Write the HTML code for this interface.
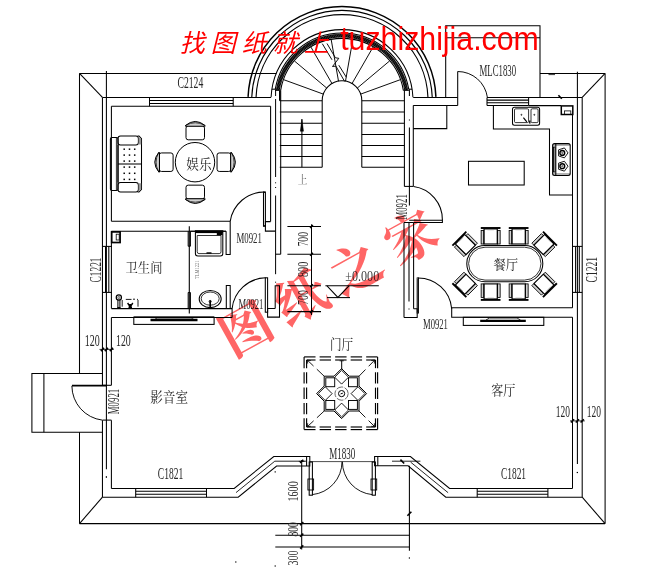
<!DOCTYPE html>
<html><head><meta charset="utf-8"><title>floor plan</title>
<style>
html,body{margin:0;padding:0;background:#fff;}
body{width:650px;height:567px;overflow:hidden;font-family:"Liberation Sans",sans-serif;}
svg{display:block;}
</style></head><body>
<svg width="650" height="567" viewBox="0 0 650 567">
<rect width="650" height="567" fill="#fff"/>
<g fill="none" stroke="#000" stroke-width="1.05">
<path d="M79.5 73.4L276.3 73.4"/>
<path d="M540 73.4L605.1 73.4"/>
<path d="M79.5 73.4L79.5 373.5"/>
<path d="M79.5 432.2L79.5 523.6"/>
<path d="M79.5 523.6L605.1 523.6"/>
<path d="M605.1 73.4L605.1 523.6"/>
<path d="M79.5 73.4L102.45 97.45"/>
<path d="M605.1 73.4L582.2 97.3"/>
<path d="M79.5 523.6L102.45 497.2"/>
<path d="M605.1 523.6L582.2 497.2"/>
<path d="M248.07 96.9A94 94 0 0 1 435.93 96.9" stroke-width="1.5"/>
<path d="M251.78 96.9A90.3 90.3 0 0 1 432.22 96.9" stroke-width="1.15"/>
<path d="M256.08 96.9A86 86 0 0 1 427.92 96.9" stroke-width="1.15"/>
<path d="M271.08 97.2A71.0 71.0 0 0 1 412.92 97.3"/>
<path d="M275.27 89.2A67.7 67.7 0 0 1 408.73 89.2"/>
<defs><pattern id="hat" width="1.9" height="1.9" patternUnits="userSpaceOnUse" patternTransform="rotate(35)"><rect width="1.9" height="1.9" fill="#fff"/><rect width="0.42" height="1.9" fill="#222"/></pattern></defs>
<path d="M276.1 90.3A66.7 66.7 0 0 1 407.9 90.3L404.25 90.3A63.1 63.1 0 0 0 279.75 90.3Z" fill="url(#hat)" stroke="none"/>
<path d="M276.1 90.3A66.7 66.7 0 0 1 407.9 90.3" stroke-width="0.6"/>
<path d="M280.64 90.4A62.2 62.2 0 0 1 403.36 90.4"/>
<path d="M271.92 89.2L275.27 89.2"/>
<path d="M275.09 90.3L280.66 90.3"/>
<path d="M412.08 89.2L408.73 89.2"/>
<path d="M408.91 90.3L403.34 90.3"/>
<path d="M279.8 100.8L322.2 100.8"/>
<path d="M361.8 100.8L404.4 100.8"/>
<path d="M279.8 111.9L322.2 111.9"/>
<path d="M361.8 111.9L404.4 111.9"/>
<path d="M279.8 123.3L322.2 123.3"/>
<path d="M361.8 123.3L404.4 123.3"/>
<path d="M279.8 134.4L322.2 134.4"/>
<path d="M361.8 134.4L404.4 134.4"/>
<path d="M279.8 145.4L322.2 145.4"/>
<path d="M361.8 145.4L404.4 145.4"/>
<path d="M279.8 156.4L322.2 156.4"/>
<path d="M361.8 156.4L404.4 156.4"/>
<path d="M279.8 167.3L322.2 167.3"/>
<path d="M361.8 167.3L404.4 167.3"/>
<path d="M322.2 167.3L322.2 100.6A19.8 19.8 0 0 1 361.8 100.6L361.8 167.3"/>
<path d="M360.61 94.13L400.45 79.63" stroke-width="0.95"/>
<path d="M357.17 88.17L389.65 60.92" stroke-width="0.95"/>
<path d="M351.9 83.75L373.1 47.03" stroke-width="0.95"/>
<path d="M345.44 81.4L352.8 39.64" stroke-width="0.95"/>
<path d="M338.56 81.4L331.2 39.64" stroke-width="0.95"/>
<path d="M332.1 83.75L310.9 47.03" stroke-width="0.95"/>
<path d="M326.83 88.17L294.35 60.92" stroke-width="0.95"/>
<path d="M323.39 94.13L283.55 79.63" stroke-width="0.95"/>
<path d="M322.3 43.7L332 59.8" stroke-width="0.95"/>
<path d="M327 43.5L335.4 57.8L338.8 58.3L332.5 66.5L335.9 66.1L344.6 81.4" stroke-width="0.95"/>
<path d="M332 59.8L332.5 66.5" stroke-width="0.0001"/>
<path d="M338.8 65.2L346.3 77.2" stroke-width="0.95"/>
<path d="M301.9 167.3L301.9 119"/>
<path d="M301.9 119.6L300.3 131.2L303.5 131.2Z" fill="#000" stroke-width="0.5"/>
<path d="M102.45 97.45L102.45 385.2"/>
<path d="M102.45 420.2L102.45 497.2"/>
<path d="M106.4 71L106.4 469.3"/>
<path d="M106.4 476.5L106.4 477.5"/>
<path d="M111.4 106.2L111.4 221.2"/>
<path d="M111.4 231.2L111.4 308.6"/>
<path d="M111.4 317.4L111.4 385.2"/>
<path d="M111.4 420.2L111.4 488.4"/>
<path d="M102.45 385.3L111.4 385.3"/>
<path d="M102.45 420.1L111.4 420.1"/>
<path d="M102.45 97.45L271 97.45"/>
<path d="M111.4 106.2L270.6 106.2"/>
<path d="M149.5 100.5L233.2 100.5"/>
<path d="M149.5 103.4L233.2 103.4"/>
<path d="M149.5 97.45L149.5 106.2"/>
<path d="M233.2 97.45L233.2 106.2"/>
<path d="M582.2 97.3L582.2 497.2"/>
<path d="M577.4 71.8L577.4 464"/>
<path d="M577.4 472L577.4 473"/>
<path d="M572.5 114.6L572.5 307.8"/>
<path d="M572.5 317.2L572.5 488.4"/>
<path d="M413.2 97.4L457.7 97.4"/>
<path d="M487 97.4L582.2 97.4"/>
<path d="M413.2 105.5L457.7 105.5"/>
<path d="M487 100.1L528.6 100.1"/>
<path d="M487 102.8L528.6 102.8"/>
<path d="M487 105.5L528.6 105.5"/>
<path d="M487 97.4L487 105.5"/>
<path d="M528.6 97.4L528.6 105.5"/>
<path d="M528.6 105.6L561 105.6"/>
<path d="M111.4 488.4L234.2 488.4L273.8 456.5L309.8 456.5L309.8 466L276.6 466L238.2 497.2L102.45 497.2"/>
<path d="M236 492.6L274.8 461.2L306.3 461.2" stroke-width="0.85"/>
<path d="M306.6 456.8L306.6 466"/>
<path d="M572.5 488.4L449.6 488.4L410.4 456.5L374.6 456.5L374.6 465.8L408.1 465.8L445.8 497.2L582.2 497.2"/>
<path d="M448.1 492.7L410.6 462.1" stroke-width="0.85"/>
<path d="M392 461.2L420.4 461.2" stroke-width="0.85"/>
<path d="M400.4 459.6L404.2 463.5" stroke-width="1.6"/>
<path d="M377.8 456.7L377.8 465.8"/>
<path d="M135.7 488.4L135.7 497.2"/>
<path d="M206.5 488.4L206.5 497.2"/>
<path d="M135.7 491.3L206.5 491.3"/>
<path d="M135.7 494.3L206.5 494.3"/>
<path d="M477.2 488.4L477.2 497.2"/>
<path d="M547.9 488.4L547.9 497.2"/>
<path d="M477.2 491.3L547.9 491.3"/>
<path d="M477.2 494.3L547.9 494.3"/>
<path d="M102.45 246.4L111.8 246.4"/>
<path d="M102.45 292.4L111.8 292.4"/>
<path d="M105.5 246.4L105.5 292.4"/>
<path d="M108.8 246.4L108.8 292.4"/>
<path d="M572 246.4L582.2 246.4"/>
<path d="M572 292.4L582.2 292.4"/>
<path d="M575.6 246.4L575.6 292.4"/>
<path d="M579.3 246.4L579.3 292.4"/>
<path d="M445.7 97.4L445.7 25.8L540 25.8L540 97.4"/>
<path d="M445.7 37.8L540 37.8"/>
<path d="M548.5 74.6L555 74.6" stroke-width="0.8"/>
<path d="M558.4 95.2L561.8 98.8" stroke-width="1.6"/>
<path d="M457.7 71.5L457.7 105.5"/>
<path d="M457.7 71.5A30 30 0 0 1 487.4 97.4" stroke-width="0.95"/>
<path d="M102.45 373.5L31.9 373.5L31.9 432.2L102.45 432.2"/>
<path d="M43.9 373.5L43.9 432.2"/>
<path d="M71.9 385.6L106.4 385.6" stroke-width="1.8"/>
<path d="M71.9 386A34.6 34.6 0 0 0 102.2 420.1" stroke-width="0.95"/>
<path d="M270.6 106.2L270.6 221.6"/>
<path d="M280.7 90.4L280.7 254.2"/>
<path d="M279.8 90.4L279.8 100.8" stroke-width="1.6"/>
<path d="M275.6 89.2L275.6 96M275.6 99L275.6 177M275.6 182.3L275.6 183.3M275.6 187L275.6 188M275.6 195.5L275.6 274.2M275.6 281.7L275.6 282.7" stroke-width="1"/>
<path d="M111.4 221.2L230.2 221.2"/>
<path d="M111.4 231.2L226.1 231.2"/>
<rect x="263.5" y="192" width="1.9" height="34.3"/>
<path d="M230.2 221.3A34.5 34.5 0 0 1 264.6 192"/>
<path d="M270.6 221.6L265.4 221.6L265.4 231.1L275.6 231.1"/>
<path d="M275.6 254.2L280.7 254.2"/>
<path d="M111.4 308.6L232.1 308.6"/>
<path d="M111.4 317.4L232.1 317.4"/>
<path d="M232.1 308.6L232.1 317.4"/>
<path d="M188.2 231.2L188.2 246.2"/>
<path d="M190.4 231.2L190.4 246.2"/>
<path d="M188.2 246.2L190.4 246.2"/>
<path d="M188.2 292.5L188.2 308.6"/>
<path d="M190.4 292.5L190.4 308.6"/>
<path d="M188.2 292.5L190.4 292.5"/>
<path d="M189.3 226.2L189.3 313.5" stroke-width="1.1"/>
<path d="M190.4 231.2L226.1 231.2"/>
<path d="M226.1 231.2L226.1 254.4L230.2 254.4L230.2 221.2"/>
<path d="M226.3 308.6L226.3 285.4L230.2 285.4L230.2 308.6"/>
<rect x="265.3" y="277.8" width="2.3" height="34.4"/>
<path d="M265.6 277.8A34.5 34.5 0 0 0 232.1 308.6"/>
<path d="M275.2 308.5L275.2 285.7L279.5 285.7L279.5 317.1L267.6 317.1L267.6 308.5L275.2 308.5"/>
<rect x="111.7" y="231.9" width="8.4" height="10.6" stroke-width="1.7"/>
<rect x="116.2" y="234.2" width="3" height="5.8" stroke-width="0.8"/>
<circle cx="118.85" cy="297.5" r="2.6" stroke-width="1.2"/>
<circle cx="118.85" cy="297.5" r="1" stroke-width="0.6"/>
<path d="M117.9 299.8L117.9 308"/>
<path d="M119.9 299.8L119.9 308"/>
<path d="M117.4 308L120.4 308" stroke-width="2"/>
<path d="M122.2 300L122.2 306.7M138 300L138 306.7M125.8 299.4L131.5 299.4M133 299.2L135 299.2M137 299.4L138 299.4" stroke-width="0.9"/>
<path d="M127.6 303L130.2 306.8M132.8 303L130.2 306.8M128.5 307.2L132 307.2M130.2 304L130.2 307" stroke-width="1.4"/>
<path d="M195.4 230.8L222.8 230.8L222.8 253.5Q222.8 256 220.3 256L197.9 256Q195.4 256 195.4 253.5Z"/>
<path d="M195.4 232L222.8 232" stroke-width="2.2"/>
<path d="M197.2 235.5L221 235.5L221 251.8Q221 253.6 219.2 253.6L199 253.6Q197.2 253.6 197.2 251.8Z" stroke-width="0.8"/>
<rect x="216.8" y="231" width="5.8" height="4.2" fill="#000" stroke="none"/>
<path d="M206.5 253L211.5 253" stroke-width="1.4"/>
<ellipse cx="210.2" cy="299" rx="11" ry="8.6"/>
<ellipse cx="210.2" cy="298.6" rx="9" ry="6.6" stroke-width="0.8"/>
<path d="M210.2 300.5L210.2 307.5" stroke-width="1.6"/>
<circle cx="210.2" cy="301.5" r="1.1" stroke-width="0.8"/>
<rect x="133.8" y="317.2" width="80.3" height="7.2"/>
<path d="M133.8 317.2L214.1 317.2" stroke-width="1.6"/>
<path d="M150.5 320L197.5 320" stroke-width="2.6"/>
<path d="M155 319L157.5 318L191 318L193.5 319" stroke-width="0.7"/>
<rect x="110.4" y="137.4" width="7.6" height="53.2" rx="1.5"/>
<path d="M116.4 138L116.4 190" stroke-width="0.8"/>
<rect x="118" y="135.9" width="20.4" height="9.2" rx="2.5"/>
<rect x="118" y="182.5" width="20.4" height="9.5" rx="2.5"/>
<path d="M137.6 135.9L139 135.9L141.5 138.6L141.5 189.4L139 192L137.6 192"/>
<path d="M138.6 136.4L141.2 139L141.2 144.5L138.6 144.5ZM138.6 191.6L141.2 189L141.2 183.2L138.6 183.2Z" fill="#999" stroke="none"/>
<path d="M118 145.1L118 182.5"/>
<path d="M118 164L141.5 164"/>
<rect x="123.45" y="148.45" width="1.5" height="1.5" fill="#000" stroke="none"/>
<rect x="128.75" y="148.45" width="1.5" height="1.5" fill="#000" stroke="none"/>
<rect x="133.95" y="148.45" width="1.5" height="1.5" fill="#000" stroke="none"/>
<rect x="123.45" y="154.35" width="1.5" height="1.5" fill="#000" stroke="none"/>
<rect x="128.75" y="154.35" width="1.5" height="1.5" fill="#000" stroke="none"/>
<rect x="133.95" y="154.35" width="1.5" height="1.5" fill="#000" stroke="none"/>
<rect x="123.45" y="160.35" width="1.5" height="1.5" fill="#000" stroke="none"/>
<rect x="128.75" y="160.35" width="1.5" height="1.5" fill="#000" stroke="none"/>
<rect x="133.95" y="160.35" width="1.5" height="1.5" fill="#000" stroke="none"/>
<rect x="123.45" y="166.35" width="1.5" height="1.5" fill="#000" stroke="none"/>
<rect x="128.75" y="166.35" width="1.5" height="1.5" fill="#000" stroke="none"/>
<rect x="133.95" y="166.35" width="1.5" height="1.5" fill="#000" stroke="none"/>
<rect x="123.45" y="172.55" width="1.5" height="1.5" fill="#000" stroke="none"/>
<rect x="128.75" y="172.55" width="1.5" height="1.5" fill="#000" stroke="none"/>
<rect x="133.95" y="172.55" width="1.5" height="1.5" fill="#000" stroke="none"/>
<rect x="123.45" y="178.65" width="1.5" height="1.5" fill="#000" stroke="none"/>
<rect x="128.75" y="178.65" width="1.5" height="1.5" fill="#000" stroke="none"/>
<rect x="133.95" y="178.65" width="1.5" height="1.5" fill="#000" stroke="none"/>
<circle cx="195" cy="162.2" r="19.7" stroke-width="1.0"/>
<g transform="rotate(0 195.25 132.85)">
<rect x="186" y="125.9" width="18.5" height="13.9" rx="2.2" stroke-width="1.0"/>
<path d="M185.25 125.85L205.25 125.85" stroke-width="1.7"/>
<path d="M185.25 125.65Q195.25 117.25 205.25 125.65" stroke-width="1.0" fill="#cfcfcf"/>
<path d="M185.85 125.25Q195.25 120.25 204.65 125.25" stroke-width="0.7"/>
</g>
<g transform="rotate(180 195.25 192.1)">
<rect x="186" y="185.15" width="18.5" height="13.9" rx="2.2" stroke-width="1.0"/>
<path d="M185.25 185.1L205.25 185.1" stroke-width="1.7"/>
<path d="M185.25 184.9Q195.25 176.5 205.25 184.9" stroke-width="1.0" fill="#cfcfcf"/>
<path d="M185.85 184.5Q195.25 179.5 204.65 184.5" stroke-width="0.7"/>
</g>
<g transform="rotate(-90 166.15 162.2)">
<rect x="156.9" y="155.25" width="18.5" height="13.9" rx="2.2" stroke-width="1.0"/>
<path d="M156.15 155.2L176.15 155.2" stroke-width="1.7"/>
<path d="M156.15 155Q166.15 146.6 176.15 155" stroke-width="1.0" fill="#cfcfcf"/>
<path d="M156.75 154.6Q166.15 149.6 175.55 154.6" stroke-width="0.7"/>
</g>
<g transform="rotate(90 224 162.2)">
<rect x="214.75" y="155.25" width="18.5" height="13.9" rx="2.2" stroke-width="1.0"/>
<path d="M214 155.2L234 155.2" stroke-width="1.7"/>
<path d="M214 155Q224 146.6 234 155" stroke-width="1.0" fill="#cfcfcf"/>
<path d="M214.6 154.6Q224 149.6 233.4 154.6" stroke-width="0.7"/>
</g>
<path d="M404.4 90.2L404.4 186.4"/>
<path d="M413.3 105.4L413.3 186.4"/>
<path d="M404.4 186.4L413.3 186.4"/>
<path d="M409.4 89.2L409.4 96M409.4 119.4L409.4 120.4M409.4 127.6L409.4 205.6"/>
<path d="M446.8 105.4L446.8 128.6L413.3 128.6"/>
<path d="M413.6 186.6A33.4 33.4 0 0 1 442.4 220.2"/>
<path d="M409.2 220.2L442.4 220.2L442.4 222.5L413.6 222.5"/>
<path d="M404 222.5L404 317.5"/>
<path d="M404 222.5L413.6 222.5"/>
<path d="M413.6 222.5L413.6 308.7"/>
<path d="M409 222.5L409 301.6M409 308.5L409 309.5"/>
<path d="M404 317.5L417.2 317.5L417.2 308.7L413.6 308.7"/>
<rect x="417.2" y="278" width="1.2" height="35"/>
<path d="M417.8 278A33.6 33.6 0 0 1 451.7 308.7"/>
<path d="M572.5 307.8L451.7 307.8L451.7 317.3L572.5 317.3"/>
<rect x="463.3" y="317.3" width="80.5" height="8.1"/>
<path d="M480.2 320.9L525.8 320.9" stroke-width="2.4"/>
<path d="M486 320L489.5 318L517 318L520.5 320" stroke-width="0.8"/>
<path d="M493.4 105.5L493.4 128.9L549.5 128.9L549.5 194.9L572.5 194.9"/>
<rect x="512.5" y="107.2" width="27.1" height="18" rx="2"/>
<rect x="514.5" y="108.8" width="14.1" height="13.8" rx="1.2" stroke-width="0.8"/>
<rect x="531" y="108.8" width="7.1" height="13.8" rx="1.2" stroke-width="0.8"/>
<path d="M523.4 117.6L526.8 121.8" stroke-width="1.2"/>
<path d="M529.8 120.4L529.8 123.4" stroke-width="1.4"/>
<circle cx="521.4" cy="114.8" r="0.5" stroke-width="0.8"/>
<circle cx="534.3" cy="114.8" r="0.5" stroke-width="0.8"/>
<rect x="561.3" y="105.9" width="11.5" height="8.6" stroke-width="1.5"/>
<rect x="564.4" y="110.9" width="6.4" height="3.5" stroke-width="0.8"/>
<rect x="552.6" y="143.6" width="17.6" height="31.8" rx="2"/>
<path d="M555.8 144L555.8 175"/>
<rect x="553.5" y="147" width="1.5" height="25" stroke-width="0.9"/>
<path d="M552.6 145L570.2 145" stroke-width="0.6"/>
<path d="M552.6 174L570.2 174" stroke-width="0.6"/>
<path d="M568 152.9L564.41 147.95L558.59 149.84L558.59 155.96L564.41 157.85Z" stroke-width="0.9"/>
<circle cx="562.3" cy="152.9" r="2.4" stroke-width="1.4"/>
<circle cx="562.3" cy="152.9" r="0.7" stroke-width="0.6"/>
<path d="M568 166.2L564.41 161.25L558.59 163.14L558.59 169.26L564.41 171.15Z" stroke-width="0.9"/>
<circle cx="562.3" cy="166.2" r="2.4" stroke-width="1.4"/>
<circle cx="562.3" cy="166.2" r="0.7" stroke-width="0.6"/>
<rect x="468.5" y="161.3" width="55.7" height="23.7"/>
<rect x="466.8" y="245.5" width="76" height="36.3" rx="18.1"/>
<rect x="468.6" y="247.2" width="72.4" height="32.9" rx="16.4" stroke-width="0.8"/>
<g transform="rotate(0 490.65 236.5)">
<path d="M480.8 228L500.5 228" stroke-width="1.9"/>
<rect x="481.15" y="230.5" width="2.6" height="13.5" stroke-width="0.85" fill="#d0d0d0"/>
<rect x="497.55" y="230.5" width="2.6" height="13.5" stroke-width="0.85" fill="#d0d0d0"/>
<rect x="484.05" y="228.9" width="13.2" height="15.1" stroke-width="1.15"/>
<path d="M487.45 229.8L493.85 229.8" stroke-width="0.6" stroke="#888"/>
</g>
<g transform="rotate(0 518.65 236.5)">
<path d="M508.8 228L528.5 228" stroke-width="1.9"/>
<rect x="509.15" y="230.5" width="2.6" height="13.5" stroke-width="0.85" fill="#d0d0d0"/>
<rect x="525.55" y="230.5" width="2.6" height="13.5" stroke-width="0.85" fill="#d0d0d0"/>
<rect x="512.05" y="228.9" width="13.2" height="15.1" stroke-width="1.15"/>
<path d="M515.45 229.8L521.85 229.8" stroke-width="0.6" stroke="#888"/>
</g>
<g transform="rotate(180 490.65 291.4)">
<path d="M480.8 282.9L500.5 282.9" stroke-width="1.9"/>
<rect x="481.15" y="285.4" width="2.6" height="13.5" stroke-width="0.85" fill="#d0d0d0"/>
<rect x="497.55" y="285.4" width="2.6" height="13.5" stroke-width="0.85" fill="#d0d0d0"/>
<rect x="484.05" y="283.8" width="13.2" height="15.1" stroke-width="1.15"/>
<path d="M487.45 284.7L493.85 284.7" stroke-width="0.6" stroke="#888"/>
</g>
<g transform="rotate(180 518.65 291.4)">
<path d="M508.8 282.9L528.5 282.9" stroke-width="1.9"/>
<rect x="509.15" y="285.4" width="2.6" height="13.5" stroke-width="0.85" fill="#d0d0d0"/>
<rect x="525.55" y="285.4" width="2.6" height="13.5" stroke-width="0.85" fill="#d0d0d0"/>
<rect x="512.05" y="283.8" width="13.2" height="15.1" stroke-width="1.15"/>
<path d="M515.45 284.7L521.85 284.7" stroke-width="0.6" stroke="#888"/>
</g>
<g transform="rotate(-45 465.4 244.6)">
<path d="M455.55 236.1L475.25 236.1" stroke-width="1.9"/>
<rect x="455.9" y="238.6" width="2.6" height="13.5" stroke-width="0.85" fill="#d0d0d0"/>
<rect x="472.3" y="238.6" width="2.6" height="13.5" stroke-width="0.85" fill="#d0d0d0"/>
<rect x="458.8" y="237" width="13.2" height="15.1" stroke-width="1.15"/>
<path d="M462.2 237.9L468.6 237.9" stroke-width="0.6" stroke="#888"/>
</g>
<g transform="rotate(45 543.9 244.6)">
<path d="M534.05 236.1L553.75 236.1" stroke-width="1.9"/>
<rect x="534.4" y="238.6" width="2.6" height="13.5" stroke-width="0.85" fill="#d0d0d0"/>
<rect x="550.8" y="238.6" width="2.6" height="13.5" stroke-width="0.85" fill="#d0d0d0"/>
<rect x="537.3" y="237" width="13.2" height="15.1" stroke-width="1.15"/>
<path d="M540.7 237.9L547.1 237.9" stroke-width="0.6" stroke="#888"/>
</g>
<g transform="rotate(-135 465.4 284.2)">
<path d="M455.55 275.7L475.25 275.7" stroke-width="1.9"/>
<rect x="455.9" y="278.2" width="2.6" height="13.5" stroke-width="0.85" fill="#d0d0d0"/>
<rect x="472.3" y="278.2" width="2.6" height="13.5" stroke-width="0.85" fill="#d0d0d0"/>
<rect x="458.8" y="276.6" width="13.2" height="15.1" stroke-width="1.15"/>
<path d="M462.2 277.5L468.6 277.5" stroke-width="0.6" stroke="#888"/>
</g>
<g transform="rotate(135 543.9 284.2)">
<path d="M534.05 275.7L553.75 275.7" stroke-width="1.9"/>
<rect x="534.4" y="278.2" width="2.6" height="13.5" stroke-width="0.85" fill="#d0d0d0"/>
<rect x="550.8" y="278.2" width="2.6" height="13.5" stroke-width="0.85" fill="#d0d0d0"/>
<rect x="537.3" y="276.6" width="13.2" height="15.1" stroke-width="1.15"/>
<path d="M540.7 277.5L547.1 277.5" stroke-width="0.6" stroke="#888"/>
</g>
<path d="M304.1 356.9L315.52 356.9" stroke-width="1.15"/>
<path d="M304.1 429.6L315.52 429.6" stroke-width="1.15"/>
<path d="M319.62 356.9L331.04 356.9" stroke-width="1.15"/>
<path d="M319.62 429.6L331.04 429.6" stroke-width="1.15"/>
<path d="M335.14 356.9L346.56 356.9" stroke-width="1.15"/>
<path d="M335.14 429.6L346.56 429.6" stroke-width="1.15"/>
<path d="M350.66 356.9L362.08 356.9" stroke-width="1.15"/>
<path d="M350.66 429.6L362.08 429.6" stroke-width="1.15"/>
<path d="M366.18 356.9L377.6 356.9" stroke-width="1.15"/>
<path d="M366.18 429.6L377.6 429.6" stroke-width="1.15"/>
<path d="M304.1 356.9L304.1 368.16" stroke-width="1.15"/>
<path d="M377.6 356.9L377.6 368.16" stroke-width="1.15"/>
<path d="M304.1 372.26L304.1 383.52" stroke-width="1.15"/>
<path d="M377.6 372.26L377.6 383.52" stroke-width="1.15"/>
<path d="M304.1 387.62L304.1 398.88" stroke-width="1.15"/>
<path d="M377.6 387.62L377.6 398.88" stroke-width="1.15"/>
<path d="M304.1 402.98L304.1 414.24" stroke-width="1.15"/>
<path d="M377.6 402.98L377.6 414.24" stroke-width="1.15"/>
<path d="M304.1 418.34L304.1 429.6" stroke-width="1.15"/>
<path d="M377.6 418.34L377.6 429.6" stroke-width="1.15"/>
<path d="M306.6 360L315.52 360" stroke-width="1.15"/>
<path d="M306.6 427L315.52 427" stroke-width="1.15"/>
<path d="M319.62 360L331.04 360" stroke-width="1.15"/>
<path d="M319.62 427L331.04 427" stroke-width="1.15"/>
<path d="M335.14 360L346.56 360" stroke-width="1.15"/>
<path d="M335.14 427L346.56 427" stroke-width="1.15"/>
<path d="M350.66 360L362.08 360" stroke-width="1.15"/>
<path d="M350.66 427L362.08 427" stroke-width="1.15"/>
<path d="M366.18 360L375.5 360" stroke-width="1.15"/>
<path d="M366.18 427L375.5 427" stroke-width="1.15"/>
<path d="M306.6 360L306.6 368.16" stroke-width="1.15"/>
<path d="M375.5 360L375.5 368.16" stroke-width="1.15"/>
<path d="M306.6 372.26L306.6 383.52" stroke-width="1.15"/>
<path d="M375.5 372.26L375.5 383.52" stroke-width="1.15"/>
<path d="M306.6 387.62L306.6 398.88" stroke-width="1.15"/>
<path d="M375.5 387.62L375.5 398.88" stroke-width="1.15"/>
<path d="M306.6 402.98L306.6 414.24" stroke-width="1.15"/>
<path d="M375.5 402.98L375.5 414.24" stroke-width="1.15"/>
<path d="M306.6 418.34L306.6 427" stroke-width="1.15"/>
<path d="M375.5 418.34L375.5 427" stroke-width="1.15"/>
<path d="M374.6 426.6L368.59 420.59" stroke-width="0.9"/>
<path d="M365.41 417.41L359 411" stroke-width="0.9"/>
<path d="M371.2 426.3L374.6 426.6L374.3 423.2" stroke-width="0.8"/>
<path d="M307.4 426.6L313.63 420.82" stroke-width="0.9"/>
<path d="M316.93 417.75L324.2 411" stroke-width="0.9"/>
<path d="M310.8 426.3L307.4 426.6L307.7 423.2" stroke-width="0.8"/>
<path d="M374.6 360.2L368.67 366.29" stroke-width="0.9"/>
<path d="M365.52 369.51L359 376.2" stroke-width="0.9"/>
<path d="M371.2 360.5L374.6 360.2L374.3 363.6" stroke-width="0.8"/>
<path d="M307.4 360.2L313.56 366.06" stroke-width="0.9"/>
<path d="M316.81 369.17L324.2 376.2" stroke-width="0.9"/>
<path d="M310.8 360.5L307.4 360.2L307.7 363.6" stroke-width="0.8"/>
<path d="M341.7 360.6L341.7 369.6" stroke-width="1.0"/>
<path d="M339.6 360.8L343.8 360.8" stroke-width="0.8"/>
<path d="M341.6 368.6L349.2 376.2L359 376.2L359 386L366.6 393.6L359 401.2L359 411L349.2 411L341.6 418.6L334 411L324.2 411L324.2 401.2L316.6 393.6L324.2 386L324.2 376.2L334 376.2Z" stroke-width="1.0"/>
<rect x="348.5" y="400.5" width="8.9" height="8.9" stroke-width="0.95"/>
<rect x="325.8" y="400.5" width="8.9" height="8.9" stroke-width="0.95"/>
<rect x="348.5" y="377.8" width="8.9" height="8.9" stroke-width="0.95"/>
<rect x="325.8" y="377.8" width="8.9" height="8.9" stroke-width="0.95"/>
<path d="M341.6 370.3L348.5 377.2L341.6 384.1L334.7 377.2Z" stroke-width="0.9"/>
<path d="M358 386.7L364.9 393.6L358 400.5L351.1 393.6Z" stroke-width="0.9"/>
<path d="M341.6 403.1L348.5 410L341.6 416.9L334.7 410Z" stroke-width="0.9"/>
<path d="M325.2 386.7L332.1 393.6L325.2 400.5L318.3 393.6Z" stroke-width="0.9"/>
<circle cx="341.6" cy="393.6" r="6.6" stroke-width="0.8" stroke="#444" stroke-dasharray="7 1.5"/>
<circle cx="341.6" cy="393.6" r="3.1" stroke-width="1.0"/>
<path d="M340.6 393.9L342.8 393.2" stroke-width="1.0"/>
<path d="M310 461.6L374.6 461.6" stroke-width="0.7"/>
<rect x="309.2" y="462" width="3.2" height="33.2"/>
<rect x="372.2" y="462" width="3.2" height="33.2"/>
<rect x="307.9" y="479" width="5.7" height="11" stroke-width="0.9"/>
<rect x="371" y="479" width="5.7" height="11" stroke-width="0.9"/>
<path d="M312.4 494.6A33 33 0 0 0 342 461.8" stroke-width="0.9"/>
<path d="M372.2 494.6A33 33 0 0 1 342.4 461.8" stroke-width="0.9"/>
<path d="M275.3 535.2L409.4 535.2"/>
<path d="M275.3 547L409.4 547"/>
<path d="M409.4 465.8L409.4 550.8"/>
<path d="M301.7 460L301.7 549.5"/>
<path d="M300.1 463L303.3 459.8" stroke-width="1.5"/>
<path d="M300.1 525.2L303.3 522" stroke-width="1.5"/>
<path d="M300.1 536.8L303.3 533.6" stroke-width="1.5"/>
<path d="M300.1 548.6L303.3 545.4" stroke-width="1.5"/>
<path d="M407.4 515.8L411.4 511.8" stroke-width="1.6"/>
<path d="M298.8 461.4L304.5 461.4" stroke-width="0.8"/>
<rect x="235.20000000000002" y="561.4" width="1.2" height="1.2" fill="#000" stroke="none"/>
<rect x="274.59999999999997" y="471.29999999999995" width="1.2" height="1.2" fill="#000" stroke="none"/>
<rect x="274.59999999999997" y="565.4" width="1.2" height="1.2" fill="#000" stroke="none"/>
<rect x="408.79999999999995" y="557.4" width="1.2" height="1.2" fill="#000" stroke="none"/>
<rect x="105.80000000000001" y="476.4" width="1.2" height="1.2" fill="#000" stroke="none"/>
<rect x="576.8" y="471.9" width="1.2" height="1.2" fill="#000" stroke="none"/>
<path d="M287.4 226.5L321 226.5"/>
<path d="M310.1 227.9L312.9 225.1" stroke-width="1.5"/>
<path d="M287.4 254.3L321 254.3"/>
<path d="M310.1 255.7L312.9 252.9" stroke-width="1.5"/>
<path d="M287.4 285.7L321 285.7"/>
<path d="M310.1 287.1L312.9 284.3" stroke-width="1.5"/>
<path d="M287.4 311.6L321 311.6"/>
<path d="M310.1 313L312.9 310.2" stroke-width="1.5"/>
<path d="M311.5 224.3L311.5 315"/>
<path d="M325.4 285.8L378.8 285.8"/>
<path d="M327 285.8L337.9 297.4L349 285.8"/>
<path d="M327 297.6L350 297.6"/>
<path d="M99.5 349.4L113.8 349.4" stroke-width="0.8"/>
<path d="M100.85 351.1L104.05 347.9" stroke-width="1.5"/>
<path d="M104.8 351.1L108 347.9" stroke-width="1.5"/>
<path d="M109.8 351.1L113 347.9" stroke-width="1.5"/>
<path d="M570 420.9L584.8 420.9" stroke-width="0.8"/>
<path d="M570.9 422.5L574.1 419.3" stroke-width="1.5"/>
<path d="M575.8 422.5L579 419.3" stroke-width="1.5"/>
<path d="M580.6 422.5L583.8 419.3" stroke-width="1.5"/>
</g>
<text transform="translate(177.5 87.9)" font-family="Liberation Serif, serif" font-size="16.36" textLength="25.8" lengthAdjust="spacingAndGlyphs" fill="#262626">C2124</text>
<text transform="translate(479.5 76.15)" font-family="Liberation Serif, serif" font-size="16.06" textLength="36.6" lengthAdjust="spacingAndGlyphs" fill="#262626">MLC1830</text>
<text transform="translate(236.5 243)" font-family="Liberation Serif, serif" font-size="15.61" textLength="25.4" lengthAdjust="spacingAndGlyphs" fill="#262626">M0921</text>
<text transform="translate(238.5 309)" font-family="Liberation Serif, serif" font-size="15.61" textLength="24.9" lengthAdjust="spacingAndGlyphs" fill="#262626">M0921</text>
<text transform="translate(423 328.9)" font-family="Liberation Serif, serif" font-size="15.61" textLength="24.9" lengthAdjust="spacingAndGlyphs" fill="#262626">M0921</text>
<text transform="translate(329.3 459.4)" font-family="Liberation Serif, serif" font-size="16.06" textLength="26" lengthAdjust="spacingAndGlyphs" fill="#262626">M1830</text>
<text transform="translate(157.85 479.2)" font-family="Liberation Serif, serif" font-size="16.36" textLength="25.4" lengthAdjust="spacingAndGlyphs" fill="#262626">C1821</text>
<text transform="translate(500.9 479.2)" font-family="Liberation Serif, serif" font-size="16.36" textLength="25.2" lengthAdjust="spacingAndGlyphs" fill="#262626">C1821</text>
<text transform="translate(407 219.6) rotate(-90)" font-family="Liberation Serif, serif" font-size="15.91" textLength="25.4" lengthAdjust="spacingAndGlyphs" fill="#262626">M0921</text>
<text transform="translate(118.6 414.2) rotate(-90)" font-family="Liberation Serif, serif" font-size="15.91" textLength="25.4" lengthAdjust="spacingAndGlyphs" fill="#262626">M0921</text>
<text transform="translate(100.65 282.4) rotate(-90)" font-family="Liberation Serif, serif" font-size="15.91" textLength="24.9" lengthAdjust="spacingAndGlyphs" fill="#262626">C1221</text>
<text transform="translate(597.3 282.4) rotate(-90)" font-family="Liberation Serif, serif" font-size="15.91" textLength="25.4" lengthAdjust="spacingAndGlyphs" fill="#262626">C1221</text>
<text transform="translate(84.8 345.8)" font-family="Liberation Serif, serif" font-size="15.91" textLength="15" lengthAdjust="spacingAndGlyphs" fill="#262626">120</text>
<text transform="translate(116 345.8)" font-family="Liberation Serif, serif" font-size="15.91" textLength="14.8" lengthAdjust="spacingAndGlyphs" fill="#262626">120</text>
<text transform="translate(555.7 417.3)" font-family="Liberation Serif, serif" font-size="16.06" textLength="14.2" lengthAdjust="spacingAndGlyphs" fill="#262626">120</text>
<text transform="translate(586.7 417.3)" font-family="Liberation Serif, serif" font-size="16.06" textLength="14.3" lengthAdjust="spacingAndGlyphs" fill="#262626">120</text>
<text transform="translate(307.8 246.6) rotate(-90)" font-family="Liberation Serif, serif" font-size="15.45" textLength="14.6" lengthAdjust="spacingAndGlyphs" fill="#262626">700</text>
<text transform="translate(307.8 277.1) rotate(-90)" font-family="Liberation Serif, serif" font-size="15.45" textLength="15.6" lengthAdjust="spacingAndGlyphs" fill="#262626">800</text>
<text transform="translate(307.8 304.9) rotate(-90)" font-family="Liberation Serif, serif" font-size="15.45" textLength="14.7" lengthAdjust="spacingAndGlyphs" fill="#262626">700</text>
<text transform="translate(345.3 281)" font-family="Liberation Serif, serif" font-size="15.45" textLength="33.9" lengthAdjust="spacingAndGlyphs" fill="#3c3c3c">±0.000</text>
<text transform="translate(297.6 501.5) rotate(-90)" font-family="Liberation Serif, serif" font-size="15.61" textLength="20.2" lengthAdjust="spacingAndGlyphs" fill="#262626">1600</text>
<text transform="translate(297.6 536.6) rotate(-90)" font-family="Liberation Serif, serif" font-size="15.61" textLength="14.4" lengthAdjust="spacingAndGlyphs" fill="#262626">800</text>
<text transform="translate(297.6 565.6) rotate(-90)" font-family="Liberation Serif, serif" font-size="15.61" textLength="15" lengthAdjust="spacingAndGlyphs" fill="#262626">300</text>
<text transform="translate(198.8 279) rotate(-90)" font-family="Liberation Serif, serif" font-size="6.36" textLength="18.4" lengthAdjust="spacingAndGlyphs" fill="#777">TLM1221</text>
<text x="186.3" y="169.3" font-family="'Liberation Serif', 'Noto Serif CJK SC', serif" font-size="13.5" textLength="25.2" lengthAdjust="spacingAndGlyphs" fill="#262626">娱乐</text>
<text x="125.6" y="271.8" font-family="'Liberation Serif', 'Noto Serif CJK SC', serif" font-size="12.8" textLength="36.8" lengthAdjust="spacingAndGlyphs" fill="#262626">卫生间</text>
<text x="493.4" y="268.7" font-family="'Liberation Serif', 'Noto Serif CJK SC', serif" font-size="12.8" textLength="24.6" lengthAdjust="spacingAndGlyphs" fill="#262626">餐厅</text>
<text x="330" y="349.2" font-family="'Liberation Serif', 'Noto Serif CJK SC', serif" font-size="13.2" textLength="23.2" lengthAdjust="spacingAndGlyphs" fill="#262626">门厅</text>
<text x="150.2" y="401.8" font-family="'Liberation Serif', 'Noto Serif CJK SC', serif" font-size="13.2" textLength="37.8" lengthAdjust="spacingAndGlyphs" fill="#262626">影音室</text>
<text x="491.2" y="395.1" font-family="'Liberation Serif', 'Noto Serif CJK SC', serif" font-size="13.4" textLength="24.1" lengthAdjust="spacingAndGlyphs" fill="#262626">客厅</text>
<text x="297.8" y="184.4" font-family="'Liberation Serif', 'Noto Serif CJK SC', serif" font-size="10.8" textLength="9.6" lengthAdjust="spacingAndGlyphs" fill="#666">上</text>
<text x="208.35" y="302" font-family="'Liberation Serif', 'Noto Serif CJK SC', serif" font-size="52" font-weight="bold" textLength="241" lengthAdjust="spacing" transform="rotate(-29 328.85 284)" fill="#ff6666" style="mix-blend-mode:multiply">图纸之家</text>
<text x="179.8" y="51.5" font-family="'Liberation Sans', 'Noto Sans CJK SC', sans-serif" font-size="25" font-style="italic" textLength="149" lengthAdjust="spacing" fill="#ff0000">找图纸就上</text>
<text x="340.2" y="50.29" font-family="'Liberation Sans', sans-serif" font-size="33" textLength="198.6" lengthAdjust="spacingAndGlyphs" fill="#ff0000">tuzhizhijia.com</text>
</svg>
</body></html>
